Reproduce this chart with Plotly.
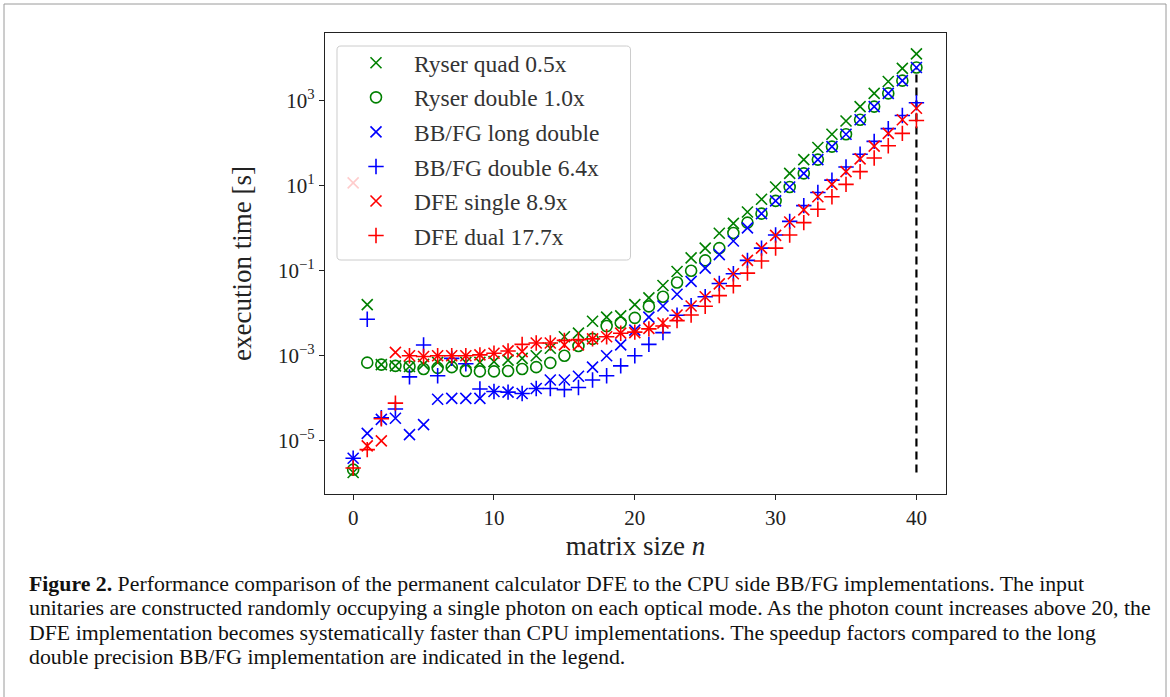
import plotly.graph_objects as go

# ---------------- data ----------------
n = list(range(41))

ryser_quad = [1.8e-6, 1.6e-2, 6.2e-4, 5.8e-4, 5.6e-4, 6.3e-4, 7.0e-4, 6.5e-4, 7.0e-4, 7.0e-4,
              7.3e-4, 7.9e-4, 8.7e-4, 1.0e-3, 1.5e-3, 2.8e-3, 3.4e-3, 6.5e-3, 8.1e-3, 8.7e-3,
              1.6e-2, 2.3e-2, 4.5e-2, 9.6e-2, 0.20, 0.34, 0.76, 1.3, 2.4, 4.8,
              9.3, 19.5, 41, 79, 162, 331, 724, 1480, 2820, 5750, 12600]

ryser_double = [2.1e-6, 6.9e-4, 6.2e-4, 5.8e-4, 5.6e-4, 4.9e-4, 5.2e-4, 5.4e-4, 4.4e-4, 4.3e-4,
                4.3e-4, 4.4e-4, 4.9e-4, 5.4e-4, 6.8e-4, 1.0e-3, 1.7e-3, 2.5e-3, 5.0e-3, 6.0e-3,
                7.8e-3, 1.45e-2, 2.45e-2, 5.3e-2, 0.10, 0.175, 0.34, 0.77, 1.35, 2.2,
                4.4, 9.3, 19.5, 41, 83, 162, 355, 724, 1480, 2950, 6000]

bbfg_long_double = [3.9e-6, 1.5e-5, 3.2e-5, 3.4e-5, 1.4e-5, 2.4e-5, 9.5e-5, 1.0e-4, 1.0e-4, 1.0e-4,
                    1.45e-4, 1.4e-4, 1.3e-4, 1.7e-4, 2.7e-4, 2.7e-4, 3.3e-4, 5.4e-4, 1.0e-3, 1.8e-3,
                    4.0e-3, 8.1e-3, 1.48e-2, 2.8e-2, 5.6e-2, 0.115, 0.24, 0.50, 1.02, 2.2,
                    4.4, 9.3, 19.5, 41, 83, 162, 355, 724, 1480, 2950, 6000]

bbfg_double = [3.9e-6, 7.2e-3, 3.5e-5, 5.6e-5, 3.2e-4, 1.8e-3, 3.4e-4, 8.7e-4, 6.5e-4, 1.65e-4,
               1.45e-4, 1.4e-4, 1.3e-4, 1.7e-4, 1.7e-4, 1.6e-4, 1.8e-4, 2.7e-4, 3.4e-4, 5.8e-4,
               1.0e-3, 1.85e-3, 3.5e-3, 9.0e-3, 1.5e-2, 2.45e-2, 5.0e-2, 8.5e-2, 0.175, 0.34,
               0.69, 1.45, 3.4, 6.9, 13.5, 27.5, 55, 110, 219, 447, 890]

# first DFE single point (n = 0) is an outlier hidden behind the legend frame
dfe_single = [11.6, 7.6e-6, 1.0e-5, 1.2e-3, 1.0e-3, 9.6e-4, 1.0e-3, 1.0e-3, 1.0e-3, 1.05e-3,
              1.15e-3, 1.3e-3, 1.25e-3, 2.0e-3, 2.0e-3, 1.8e-3, 1.8e-3, 2.5e-3, 2.8e-3, 3.4e-3,
              3.5e-3, 4.4e-3, 5.9e-3, 9.1e-3, 1.48e-2, 2.45e-2, 4.9e-2, 8.5e-2, 0.175, 0.34,
              0.68, 1.4, 2.7, 5.5, 10.7, 21.4, 42.7, 85, 170, 355, 660]

dfe_dual = [2.3e-6, 6.2e-6, 3.3e-5, 7.7e-5, 1.0e-3, 9.6e-4, 1.0e-3, 1.0e-3, 1.0e-3, 1.05e-3,
            1.15e-3, 1.3e-3, 1.85e-3, 2.0e-3, 2.0e-3, 2.3e-3, 2.4e-3, 2.5e-3, 2.8e-3, 3.4e-3,
            3.6e-3, 4.3e-3, 5.0e-3, 6.7e-3, 9.1e-3, 1.46e-2, 2.6e-2, 4.4e-2, 8.8e-2, 0.17,
            0.34, 0.69, 1.35, 2.8, 5.5, 10.7, 21.4, 44.7, 87, 170, 340]

series_names = ["Ryser quad 0.5x", "Ryser double 1.0x", "BB/FG long double",
                "BB/FG double 6.4x", "DFE single 8.9x", "DFE dual 17.7x"]

y_tick_vals = [1e-5, 1e-3, 1e-1, 1e1, 1e3]
y_tick_text = ["10<sup>−5</sup>", "10<sup>−3</sup>", "10<sup>−1</sup>", "10<sup>1</sup>", "10<sup>3</sup>"]
x_tick_vals = [0, 10, 20, 30, 40]

caption_lines = [
    "<b>Figure 2.</b> Performance comparison of the permanent calculator DFE to the CPU side BB/FG implementations. The input",
    "unitaries are constructed randomly occupying a single photon on each optical mode. As the photon count increases above 20, the",
    "DFE implementation becomes systematically faster than CPU implementations. The speedup factors compared to the long",
    "double precision BB/FG implementation are indicated in the legend.",
]

# ---------------- layout helpers ----------------
W, H = 1170, 697
L, R, T, B = 325, 946, 33, 494
PW, PH = R - L, B - T


def px(x):
    return (x - L) / PW


def py(y):
    return (B - y) / PH


SERIF = "Liberation Serif"
GREEN, BLUE, RED = "#008000", "#0000ff", "#ff0000"

fig = go.Figure()

# vertical dashed reference line at n = 40
all_vals = ryser_quad + ryser_double + bbfg_long_double + bbfg_double + dfe_single + dfe_dual
fig.add_trace(go.Scatter(x=[n[-1], n[-1]], y=[min(all_vals), bbfg_long_double[-1]],
                         mode="lines", line=dict(color="black", width=2.2, dash="8px,5px"),
                         showlegend=False, hoverinfo="skip"))

specs = [
    (ryser_quad, GREEN, "x-thin-open", 11),
    (ryser_double, GREEN, "circle-open", 11),
    (bbfg_long_double, BLUE, "x-thin-open", 11),
    (bbfg_double, BLUE, "cross-thin-open", 11),
    (dfe_single, RED, "x-thin-open", 11),
    (dfe_dual, RED, "cross-thin-open", 11),
]
for i, ((vals, col, sym, sz), name) in enumerate(zip(specs, series_names)):
    fig.add_trace(go.Scatter(
        x=n, y=vals, mode="markers", name=name, legendgroup=f"g{i}",
        marker=dict(symbol=sym, size=sz, color=col, line=dict(color=col, width=1.6)),
    ))

axis_common = dict(showline=True, linecolor="#222", linewidth=1.2, mirror=True,
                   ticks="outside", ticklen=5, tickwidth=1.2, tickcolor="#222",
                   showgrid=False, zeroline=False,
                   tickfont=dict(family=SERIF, size=21, color="#222"))

fig.update_xaxes(range=[-2.0, 42.1], tickvals=x_tick_vals,
                 title=dict(text="matrix size <i>n</i>", font=dict(family=SERIF, size=27, color="#222"),
                            standoff=6),
                 **axis_common)
fig.update_yaxes(type="log", range=[-6.25, 4.59], tickvals=y_tick_vals, ticktext=y_tick_text,
                 title=dict(text="execution time [s]", font=dict(family=SERIF, size=27, color="#222"),
                            standoff=18),
                 **axis_common)


def rounded_box(x0, y0, x1, y1, r):
    pts = [
        ("M", x0 + r, y0), ("L", x1 - r, y0), ("Q", x1, y0, x1, y0 + r),
        ("L", x1, y1 - r), ("Q", x1, y1, x1 - r, y1), ("L", x0 + r, y1),
        ("Q", x0, y1, x0, y1 - r), ("L", x0, y0 + r), ("Q", x0, y0, x0 + r, y0),
    ]
    parts = []
    for p in pts:
        cmd, coords = p[0], p[1:]
        xy = []
        for j in range(0, len(coords), 2):
            xy.append(f"{px(coords[j]):.5f},{py(coords[j + 1]):.5f}")
        parts.append(cmd + " " + " ".join(xy))
    return " ".join(parts) + " Z"


shapes = [
    dict(type="rect", xref="paper", yref="paper",
         x0=px(4), x1=px(1166), y0=py(710), y1=py(4),
         line=dict(color="#9a9a9a", width=1), fillcolor="rgba(0,0,0,0)", layer="below"),
    dict(type="path", xref="paper", yref="paper", path=rounded_box(337, 46, 630.5, 260, 4),
         line=dict(color="#cccccc", width=1), fillcolor="rgba(255,255,255,0.8)", layer="above"),
]

annotations = []
for k, line in enumerate(caption_lines):
    annotations.append(dict(text=line, xref="paper", yref="paper", x=px(27), y=py(584 + 24.3 * k),
                            xanchor="left", yanchor="middle", showarrow=False,
                            font=dict(family=SERIF, size=21.8, color="#111")))

fig.update_layout(
    width=W, height=H,
    margin=dict(l=L, r=W - R, t=T, b=H - B, pad=0),
    paper_bgcolor="white", plot_bgcolor="white",
    shapes=shapes, annotations=annotations,
    legend=dict(x=px(338), y=py(41), xanchor="left", yanchor="top",
                bgcolor="rgba(0,0,0,0)", borderwidth=0,
                font=dict(family=SERIF, size=23.5, color="#333"),
                itemwidth=66, tracegroupgap=1),
)

fig.write_html("out.html")
